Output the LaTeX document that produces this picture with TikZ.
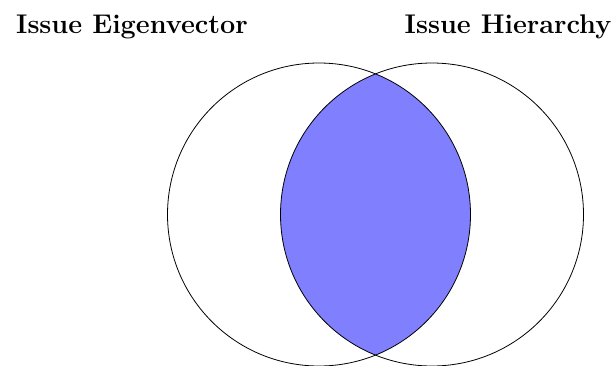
\documentclass[tikz,border=0pt]{standalone}
\begin{document}
\begin{tikzpicture}[x=1pt,y=1pt,
  setcircle/.style={draw=black,line width=0.8pt},
  label/.style={font=\fontsize{27}{32}\selectfont\bfseries,anchor=base}]
\useasboundingbox (0,0) rectangle (614,-365);
\coordinate (cl) at (319,-214.5);
\coordinate (cr) at (432,-214.5);
\begin{scope}
  \clip (cl) circle (151.5);
  \fill[blue!50] (cr) circle (151.5);
\end{scope}
\clip (0,0) rectangle (614,-365);
\draw[setcircle] (cl) circle (151.5);
\draw[setcircle] (cr) circle (151.5);
\node[label] (lA) at (132,-33) {Issue Eigenvector};
\node[label] (lB) at (508,-33) {Issue Hierarchy};
\end{tikzpicture}
\end{document}
